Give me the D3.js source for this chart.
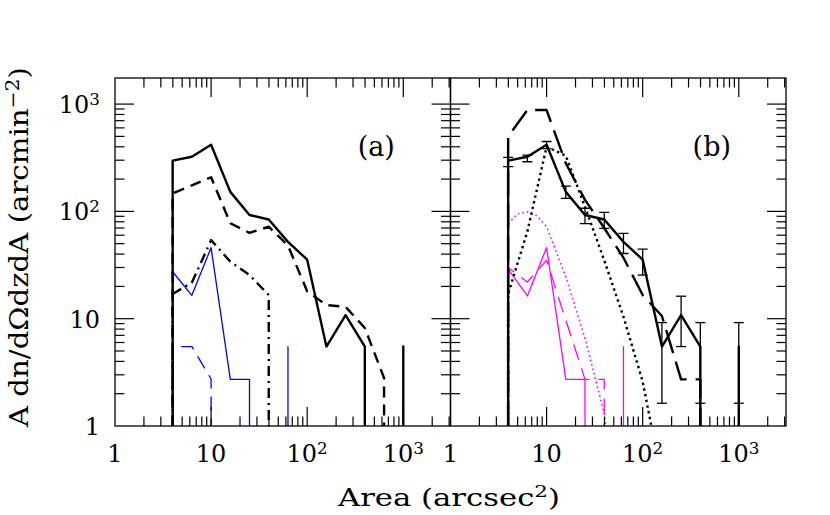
<!DOCTYPE html>
<html><head><meta charset="utf-8">
<script src="https://cdn.jsdelivr.net/npm/d3@7"></script>
<style>
body{margin:0;background:#fff}
svg{display:block}
text{font-family:"DejaVu Serif",serif;fill:#000}
</style>
</head><body>
<svg id="chart" width="830" height="515"></svg>
<script>
// ---- data ----
const bins = [3.98, 6.31, 10, 15.85, 25.1, 39.8, 63.1, 100, 158.5, 251, 398, 631, 1000];
// observed total counts (solid black), 0 = empty bin
const obsAll      = [297, 323, 418, 152, 92.5, 84, 52, 35.5, 5.5, 10.8, 5.5, 0, 5.5];
const obsErrLow   = [261, 290, 384, 132, 77, 69.5, 40.5, 25.5, 1.63, 5.5, 1.63, 0, 1.63];
const obsErrHigh  = [318, 335, 448, 172, 107, 98, 62.5, 44.4, 9.2, 16.2, 9.2, 0, 9.2];
// panel (a)
const aDashed     = [147, 175, 208, 77.5, 63, 72, 48, 18, 13.4, 12.9, 8.2, 2.8, 0];
const aDashDot    = [17, 21.7, 54, 34, 25.5, 16.6, 0, 0, 0, 0, 0, 0, 0];
const aBlueSolid  = [27.4, 16.5, 46, 2.72, 2.72, 0, 5.5, 0, 0, 0, 0, 0, 0];
const aBlueDashed = [5.5, 5.5, 2.74, 0, 0, 0, 0, 0, 0, 0, 0, 0, 0];
// panel (b)
const bLongDash   = [500, 880, 880, 281, 128, 70, 37, 16.6, 10.6, 2.72, 2.72, 0, 0];
const bDotted     = [17, 65, 400, 330, 110, 35, 10.4, 2.6, 0.31, 0, 0, 0, 0];
const bMagSolid   = [29, 16.3, 46, 2.72, 2.72, 0, 5.5, 0, 0, 0, 0, 0, 0];
const bMagDashed  = [30, 22, 35, 9.7, 2.72, 2.72, 0, 0, 0, 0, 0, 0, 0];
const magDottedX  = [3.98, 5.01, 6.31, 7.94, 10, 15.85, 25.1, 39.8, 63.1];
const magDottedY  = [77, 95, 99, 91, 72, 24.6, 6.6, 1.3, 0.05];

const xDomain = [1, 3100];
const yDomain = [1, 1750];
const xTickValues = [1, 10, 100, 1000];
const xTickLabels = [["1",""],["10",""],["10","2"],["10","3"]];
const yTickValues = [1, 10, 100, 1000];
const yTickLabels = [["1",""],["10",""],["10","2"],["10","3"]];
const xTitle = ["Area (arcsec", "2", ")"];
const yTitle = ["A dn/d\u03A9dzdA (arcmin", "\u22122", ")"];
const panelNames = ["(a)", "(b)"];

// ---- layout ----
const svg = d3.select("#chart");
const plotTop = 78, plotBottom = 426, pw = 335.5;
const panelX = [115, 450.5];
const x = d3.scaleLog().domain(xDomain).range([0, pw]);
const y = d3.scaleLog().domain(yDomain).range([plotBottom, plotTop]);

function segs(xs, ys) {
  const out = []; let cur = null;
  for (let i = 0; i < xs.length; i++) {
    if (ys[i] > 0) {
      if (!cur) { cur = [[xs[i], yDomain[0]]]; out.push(cur); }
      cur.push([xs[i], ys[i]]);
    } else if (cur) { cur.push([xs[i-1], yDomain[0]]); cur = null; }
  }
  if (cur) cur.push([xs[xs.length-1], yDomain[0]]);
  return out;
}
const line = d3.line().x(d => x(d[0])).y(d => y(d[1]));

function drawSeries(g, xs, ys, color, w, dash) {
  segs(xs, ys).forEach(s => {
    g.append("path").attr("d", line(s)).attr("fill", "none")
      .attr("stroke", color).attr("stroke-width", w)
      .attr("stroke-linejoin", "round")
      .attr("stroke-dasharray", dash || null);
  });
}

function supText(sel, parts, supScale) {
  sel.append("tspan").text(parts[0]);
  if (parts[1]) {
    sel.append("tspan").attr("font-size", (supScale*100)+"%").attr("dy", "-0.5em").text(parts[1]);
    if (parts[2]) sel.append("tspan").attr("dy", "0.35em").text(parts[2]);
  } else if (parts[2]) sel.append("tspan").text(parts[2]);
}

panelX.forEach((px, pi) => {
  const g = svg.append("g").attr("transform", `translate(${px},0)`);
  const cid = "clip" + pi;
  g.append("clipPath").attr("id", cid).append("rect")
    .attr("x", 0).attr("y", plotTop).attr("width", pw).attr("height", plotBottom - plotTop);
  const d = g.append("g").attr("clip-path", `url(#${cid})`);

  if (pi === 0) {
    drawSeries(d, bins, aBlueDashed, "#0000ff", 1.3, "14,8");
    drawSeries(d, bins, aBlueSolid, "#0000ff", 1.3);
    drawSeries(d, bins, aDashDot, "#000", 2.4, "10,5,2,5");
    drawSeries(d, bins, aDashed, "#000", 2.4, "11,7");
    drawSeries(d, bins, obsAll, "#000", 2.4);
  } else {
    drawSeries(d, magDottedX, magDottedY, "#ff00ff", 1.6, "1.6,3");
    drawSeries(d, bins, bMagDashed, "#ff00ff", 1.3, "16,9");
    drawSeries(d, bins, bMagSolid, "#ff00ff", 1.3);
    drawSeries(d, bins, bDotted, "#000", 2.4, "2.4,3.4");
    drawSeries(d, bins, bLongDash, "#000", 2.4, "24,9");
    drawSeries(d, bins, obsAll, "#000", 2.4);
    // error bars
    bins.forEach((b, i) => {
      if (obsAll[i] <= 0) return;
      const cx = x(b), y1 = y(obsErrLow[i]), y2 = y(obsErrHigh[i]);
      d.append("line").attr("x1", cx).attr("x2", cx).attr("y1", y1).attr("y2", y2)
        .attr("stroke", "#000").attr("stroke-width", 1.3);
      [y1, y2].forEach(yy => d.append("line").attr("x1", cx - 5).attr("x2", cx + 5)
        .attr("y1", yy).attr("y2", yy).attr("stroke", "#000").attr("stroke-width", 1.3));
    });
  }

  // frame
  g.append("rect").attr("x", 0).attr("y", plotTop).attr("width", pw).attr("height", plotBottom - plotTop)
    .attr("fill", "none").attr("stroke", "#000").attr("stroke-width", 1.3);

  // ticks
  const isMajor = v => Math.abs(Math.log10(v) - Math.round(Math.log10(v))) < 1e-9;
  const tk = g.append("g").attr("stroke", "#000").attr("stroke-width", 1.2);
  x.ticks().forEach(v => {
    const L = isMajor(v) ? 19 : 9.5, xx = x(v);
    if (xx <= 0.5 || xx >= pw - 0.5) return;
    tk.append("line").attr("x1", xx).attr("x2", xx).attr("y1", plotBottom).attr("y2", plotBottom - L);
    tk.append("line").attr("x1", xx).attr("x2", xx).attr("y1", plotTop).attr("y2", plotTop + L);
  });
  y.ticks().forEach(v => {
    const L = isMajor(v) ? 19 : 9.5, yy = y(v);
    if (yy >= plotBottom - 0.5 || yy <= plotTop + 0.5) return;
    tk.append("line").attr("x1", 0).attr("x2", L).attr("y1", yy).attr("y2", yy);
    tk.append("line").attr("x1", pw).attr("x2", pw - L).attr("y1", yy).attr("y2", yy);
  });

  // x tick labels
  xTickValues.forEach((v, i) => {
    const t = g.append("text").attr("x", x(v)).attr("y", 462)
      .attr("text-anchor", "middle").attr("font-size", 24);
    supText(t, xTickLabels[i], 0.7);
  });
  // y tick labels
  if (pi === 0) {
    yTickValues.forEach((v, i) => {
      const t = g.append("text").attr("x", -15).attr("y", y(v) + 9)
        .attr("text-anchor", "end").attr("font-size", 24);
      supText(t, yTickLabels[i], 0.7);
    });
  }
  // panel label
  g.append("text").attr("x", x(1000) - 27).attr("y", 156)
    .attr("text-anchor", "middle").attr("font-size", 27).text(panelNames[pi]);
});

// axis titles
const xt = svg.append("text").attr("x", 449).attr("y", 506).attr("text-anchor", "middle")
  .attr("font-size", 25).attr("textLength", 222).attr("lengthAdjust", "spacingAndGlyphs");
supText(xt, xTitle, 0.7);
const yt = svg.append("text").attr("transform", "translate(28,247) rotate(-90)")
  .attr("text-anchor", "middle").attr("font-size", 26)
  .attr("textLength", 360).attr("lengthAdjust", "spacingAndGlyphs");
supText(yt, yTitle, 0.7);
</script>
</body></html>
